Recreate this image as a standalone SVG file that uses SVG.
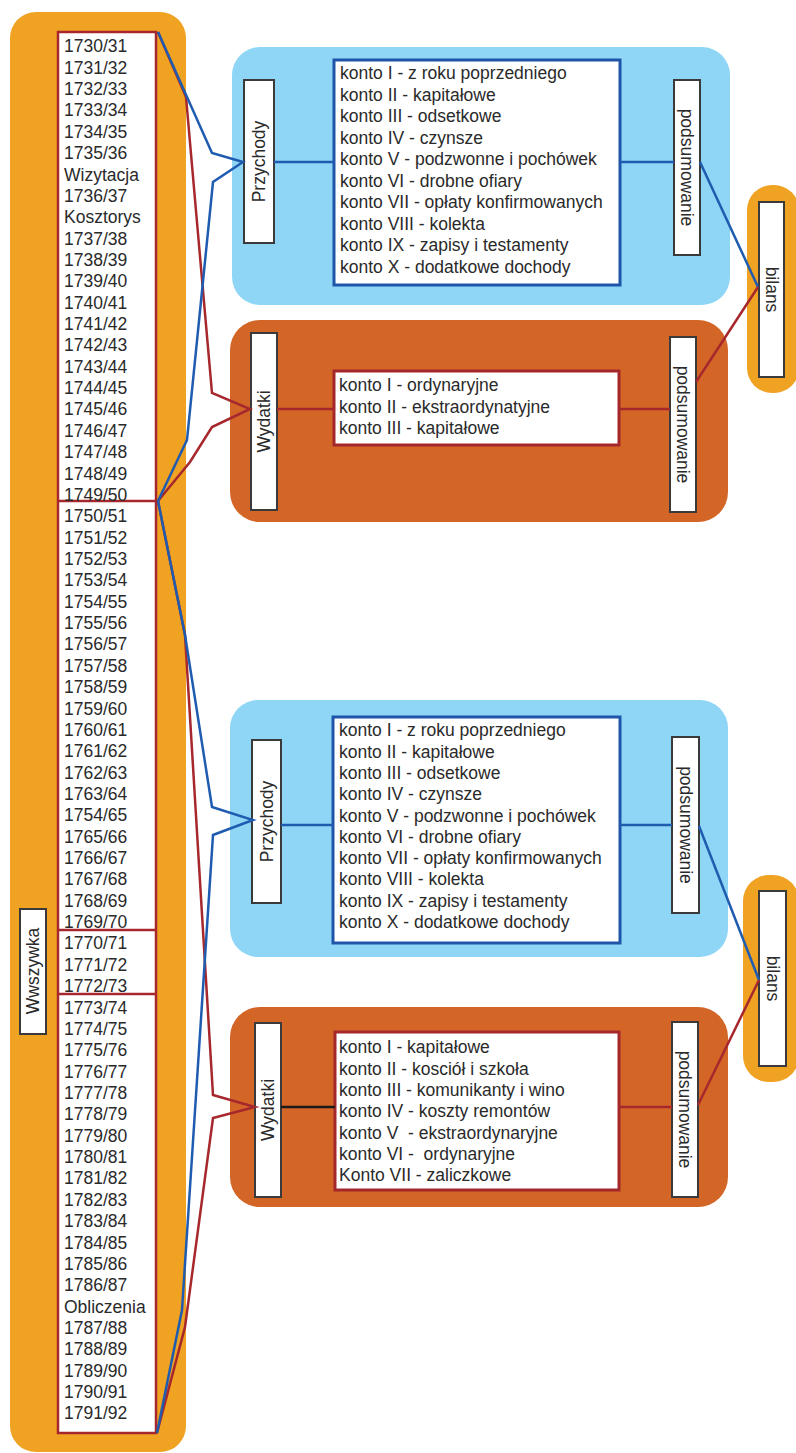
<svg xmlns="http://www.w3.org/2000/svg" width="796" height="1453" viewBox="0 0 796 1453">
<style>
text{font-family:"Liberation Sans",Arial,sans-serif;font-size:17.5px;fill:#2a2a2a}
.lbl{text-anchor:middle}
.wbox{fill:#fff;stroke:#3a3a3a;stroke-width:2}
.kb{fill:#fff;stroke:#1f55a8;stroke-width:3}
.kr{fill:#fff;stroke:#a4282b;stroke-width:3}
.orange{fill:#f0a222}
.blue{fill:#8fd6f6}
.brown{fill:#d36627}
.cb{fill:none;stroke:#1f5cb0;stroke-width:2.5;stroke-linejoin:miter}
.cr{fill:none;stroke:#a6282c;stroke-width:2.5;stroke-linejoin:miter}
.ck{fill:none;stroke:#1a1a1a;stroke-width:2.5}
</style>
<rect width="796" height="1453" fill="#fff"/>

<g id="wszywka">
<rect class="orange" x="10" y="12" width="176" height="1440" rx="26"/>
<rect class="wbox" x="20" y="909" width="26" height="125"/>
<text class="lbl" transform="translate(33,971) rotate(-90)" y="6">Wwszywka</text>
<rect x="58" y="32" width="98" height="1401" fill="#fff" stroke="#a6282c" stroke-width="2.5"/>
<line x1="58" y1="501" x2="156" y2="501" stroke="#a6282c" stroke-width="2.5"/>
<line x1="58" y1="930" x2="156" y2="930" stroke="#a6282c" stroke-width="2.5"/>
<line x1="58" y1="994" x2="156" y2="994" stroke="#a6282c" stroke-width="2.5"/>
<text x="64">
<tspan x="64" y="52.3">1730/31</tspan>
<tspan x="64" y="73.7">1731/32</tspan>
<tspan x="64" y="95.0">1732/33</tspan>
<tspan x="64" y="116.4">1733/34</tspan>
<tspan x="64" y="137.7">1734/35</tspan>
<tspan x="64" y="159.1">1735/36</tspan>
<tspan x="64" y="180.5">Wizytacja</tspan>
<tspan x="64" y="201.8">1736/37</tspan>
<tspan x="64" y="223.2">Kosztorys</tspan>
<tspan x="64" y="244.5">1737/38</tspan>
<tspan x="64" y="265.9">1738/39</tspan>
<tspan x="64" y="287.3">1739/40</tspan>
<tspan x="64" y="308.6">1740/41</tspan>
<tspan x="64" y="330.0">1741/42</tspan>
<tspan x="64" y="351.3">1742/43</tspan>
<tspan x="64" y="372.7">1743/44</tspan>
<tspan x="64" y="394.1">1744/45</tspan>
<tspan x="64" y="415.4">1745/46</tspan>
<tspan x="64" y="436.8">1746/47</tspan>
<tspan x="64" y="458.1">1747/48</tspan>
<tspan x="64" y="479.5">1748/49</tspan>
<tspan x="64" y="500.9">1749/50</tspan>
<tspan x="64" y="522.2">1750/51</tspan>
<tspan x="64" y="543.6">1751/52</tspan>
<tspan x="64" y="564.9">1752/53</tspan>
<tspan x="64" y="586.3">1753/54</tspan>
<tspan x="64" y="607.7">1754/55</tspan>
<tspan x="64" y="629.0">1755/56</tspan>
<tspan x="64" y="650.4">1756/57</tspan>
<tspan x="64" y="671.7">1757/58</tspan>
<tspan x="64" y="693.1">1758/59</tspan>
<tspan x="64" y="714.5">1759/60</tspan>
<tspan x="64" y="735.8">1760/61</tspan>
<tspan x="64" y="757.2">1761/62</tspan>
<tspan x="64" y="778.5">1762/63</tspan>
<tspan x="64" y="799.9">1763/64</tspan>
<tspan x="64" y="821.3">1754/65</tspan>
<tspan x="64" y="842.6">1765/66</tspan>
<tspan x="64" y="864.0">1766/67</tspan>
<tspan x="64" y="885.3">1767/68</tspan>
<tspan x="64" y="906.7">1768/69</tspan>
<tspan x="64" y="928.1">1769/70</tspan>
<tspan x="64" y="949.4">1770/71</tspan>
<tspan x="64" y="970.8">1771/72</tspan>
<tspan x="64" y="992.1">1772/73</tspan>
<tspan x="64" y="1013.5">1773/74</tspan>
<tspan x="64" y="1034.9">1774/75</tspan>
<tspan x="64" y="1056.2">1775/76</tspan>
<tspan x="64" y="1077.6">1776/77</tspan>
<tspan x="64" y="1098.9">1777/78</tspan>
<tspan x="64" y="1120.3">1778/79</tspan>
<tspan x="64" y="1141.7">1779/80</tspan>
<tspan x="64" y="1163.0">1780/81</tspan>
<tspan x="64" y="1184.4">1781/82</tspan>
<tspan x="64" y="1205.7">1782/83</tspan>
<tspan x="64" y="1227.1">1783/84</tspan>
<tspan x="64" y="1248.5">1784/85</tspan>
<tspan x="64" y="1269.8">1785/86</tspan>
<tspan x="64" y="1291.2">1786/87</tspan>
<tspan x="64" y="1312.5">Obliczenia</tspan>
<tspan x="64" y="1333.9">1787/88</tspan>
<tspan x="64" y="1355.3">1788/89</tspan>
<tspan x="64" y="1376.6">1789/90</tspan>
<tspan x="64" y="1398.0">1790/91</tspan>
<tspan x="64" y="1419.3">1791/92</tspan>
</text>
</g>

<g id="przychody1">
<rect class="blue" x="232" y="47" width="498" height="258" rx="28"/>
<rect class="wbox" x="244" y="80" width="30" height="163"/>
<text class="lbl" transform="translate(259,161.5) rotate(-90)" y="6">Przychody</text>
<rect class="kb" x="334" y="60" width="286" height="225"/>
<text>
<tspan x="340" y="79.3">konto I - z roku poprzedniego</tspan>
<tspan x="340" y="100.8">konto II - kapitałowe</tspan>
<tspan x="340" y="122.3">konto III - odsetkowe</tspan>
<tspan x="340" y="143.8">konto IV - czynsze</tspan>
<tspan x="340" y="165.3">konto V - podzwonne i pochówek</tspan>
<tspan x="340" y="186.8">konto VI - drobne ofiary</tspan>
<tspan x="340" y="208.3">konto VII - opłaty konfirmowanych</tspan>
<tspan x="340" y="229.8">konto VIII - kolekta</tspan>
<tspan x="340" y="251.3">konto IX - zapisy i testamenty</tspan>
<tspan x="340" y="272.8">konto X - dodatkowe dochody</tspan>
</text>
<rect class="wbox" x="674" y="80" width="26" height="175"/>
<text class="lbl" transform="translate(687,167.5) rotate(90)" y="6">podsumowanie</text>
</g>

<g id="wydatki1">
<rect class="brown" x="230" y="320" width="498" height="202" rx="30"/>
<rect class="wbox" x="251" y="333" width="26" height="177"/>
<text class="lbl" transform="translate(264,421.5) rotate(-90)" y="6">Wydatki</text>
<rect class="kr" x="334" y="371" width="285" height="74"/>
<text>
<tspan x="339" y="391.2">konto I - ordynaryjne</tspan>
<tspan x="339" y="412.5">konto II - ekstraordynatyjne</tspan>
<tspan x="339" y="433.8">konto III - kapitałowe</tspan>
</text>
<rect class="wbox" x="670" y="337" width="26" height="175"/>
<text class="lbl" transform="translate(683,424.5) rotate(90)" y="6">podsumowanie</text>
</g>

<g id="bilans1">
<rect class="orange" x="747" y="185" width="52" height="208" rx="25"/>
<rect class="wbox" x="759" y="202" width="25" height="175"/>
<text class="lbl" transform="translate(771.5,289.5) rotate(90)" y="6">bilans</text>
</g>

<g id="przychody2">
<rect class="blue" x="230" y="700" width="498" height="257" rx="28"/>
<rect class="wbox" x="252" y="740" width="29" height="163"/>
<text class="lbl" transform="translate(266.5,821.5) rotate(-90)" y="6">Przychody</text>
<rect class="kb" x="333" y="717" width="287" height="226"/>
<text>
<tspan x="339" y="736.3">konto I - z roku poprzedniego</tspan>
<tspan x="339" y="757.6">konto II - kapitałowe</tspan>
<tspan x="339" y="778.9">konto III - odsetkowe</tspan>
<tspan x="339" y="800.2">konto IV - czynsze</tspan>
<tspan x="339" y="821.5">konto V - podzwonne i pochówek</tspan>
<tspan x="339" y="842.8">konto VI - drobne ofiary</tspan>
<tspan x="339" y="864.1">konto VII - opłaty konfirmowanych</tspan>
<tspan x="339" y="885.4">konto VIII - kolekta</tspan>
<tspan x="339" y="906.7">konto IX - zapisy i testamenty</tspan>
<tspan x="339" y="928.0">konto X - dodatkowe dochody</tspan>
</text>
<rect class="wbox" x="672" y="737" width="27" height="176"/>
<text class="lbl" transform="translate(685.5,825) rotate(90)" y="6">podsumowanie</text>
</g>

<g id="wydatki2">
<rect class="brown" x="230" y="1007" width="498" height="200" rx="30"/>
<rect class="wbox" x="255" y="1023" width="26" height="174"/>
<text class="lbl" transform="translate(268,1110) rotate(-90)" y="6">Wydatki</text>
<rect class="kr" x="335" y="1032" width="284" height="158"/>
<text>
<tspan x="339" y="1053.3">konto I - kapitałowe</tspan>
<tspan x="339" y="1074.6">konto II - kosciół i szkoła</tspan>
<tspan x="339" y="1095.9">konto III - komunikanty i wino</tspan>
<tspan x="339" y="1117.2">konto IV - koszty remontów</tspan>
<tspan x="339" y="1138.5" xml:space="preserve">konto V  - ekstraordynaryjne</tspan>
<tspan x="339" y="1159.8" xml:space="preserve">konto VI -  ordynaryjne</tspan>
<tspan x="339" y="1181.1">Konto VII - zaliczkowe</tspan>
</text>
<rect class="wbox" x="672" y="1022" width="26" height="175"/>
<text class="lbl" transform="translate(685,1109.5) rotate(90)" y="6">podsumowanie</text>
</g>

<g id="bilans2">
<rect class="orange" x="743" y="875" width="56" height="207" rx="26"/>
<rect class="wbox" x="759" y="891" width="27" height="175"/>
<text class="lbl" transform="translate(772.5,978.5) rotate(90)" y="6">bilans</text>
</g>

<g id="connectors">
<polyline class="cr" points="158,32 186,97 212,393 250,409 212,427 190,462 158,501"/>
<polyline class="cb" points="158,32 212,153 243,162 213,182 187,440 158,501"/>
<polyline class="cr" points="158,501 185,635 213,1095 255,1107 213,1118 185,1327 157,1433"/>
<polyline class="cb" points="158,501 185,635 212,807 253,820 213,835 182,1310 157,1433"/>
<line class="cb" x1="274" y1="162" x2="334" y2="162"/>
<line class="cb" x1="620" y1="162" x2="674" y2="162"/>
<line class="cb" x1="700" y1="162" x2="758" y2="287"/>
<line class="cr" x1="277" y1="409" x2="334" y2="409"/>
<line class="cr" x1="619" y1="409" x2="670" y2="409"/>
<line class="cr" x1="696" y1="382" x2="758" y2="287"/>
<line class="cb" x1="281" y1="825" x2="333" y2="825"/>
<line class="cb" x1="620" y1="825" x2="672" y2="825"/>
<line class="cb" x1="699" y1="826" x2="759" y2="980"/>
<line class="ck" x1="281" y1="1107" x2="335" y2="1107"/>
<line class="cr" x1="619" y1="1107" x2="672" y2="1107"/>
<line class="cr" x1="698" y1="1105" x2="759" y2="980"/>
</g>
</svg>
